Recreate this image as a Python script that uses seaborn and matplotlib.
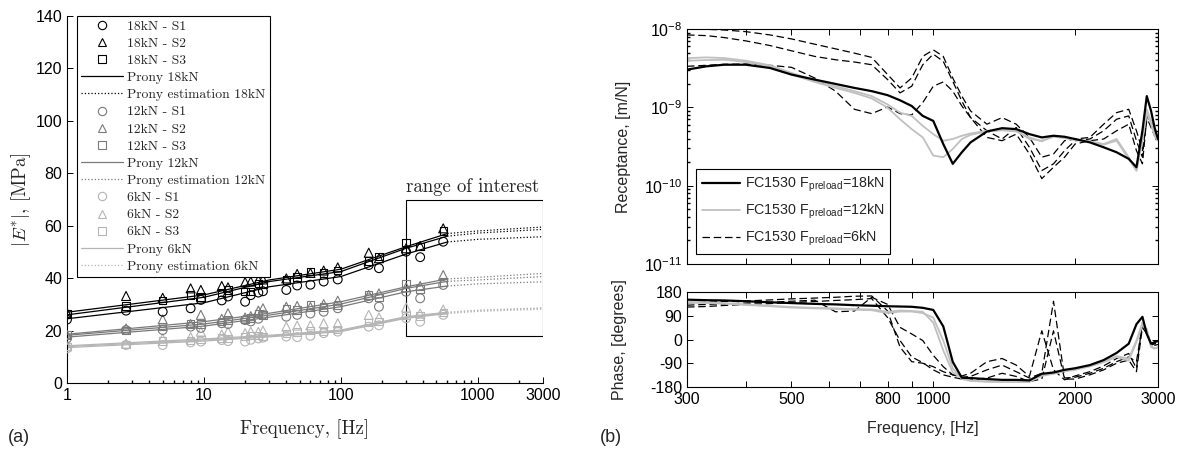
import matplotlib
matplotlib.use("Agg")  # no display

import numpy as np
import matplotlib.pyplot as plt
import seaborn as sns
from matplotlib.lines import Line2D
from matplotlib.patches import Rectangle
from matplotlib.ticker import FixedLocator, FixedFormatter, LogLocator, NullFormatter, NullLocator

# ---------------- (a) dynamic modulus |E*| vs frequency ----------------
meas_freq = [1, 2.7, 5, 8, 9.5, 13.5, 15, 20, 22, 25, 27, 40, 48, 60, 75, 95, 160, 190, 300, 380, 560]

e18_s1 = [24.2, 27.6, 27.2, 28.5, 31.7, 31.5, 33.0, 31.0, 33.5, 34.5, 35.0, 35.5, 37.2, 37.5, 38.7, 39.5, 45.0, 43.8, 50.1, 48.0, 53.9]
e18_s2 = [26.8, 33.2, 32.5, 36.1, 35.5, 37.0, 36.5, 38.5, 38.7, 39.3, 39.5, 39.9, 41.6, 42.0, 42.9, 44.1, 49.7, 47.6, 51.4, 52.3, 59.0]
e18_s3 = [26.5, 29.4, 31.5, 33.6, 32.8, 34.5, 35.5, 35.0, 34.8, 38.0, 37.5, 39.3, 40.5, 42.5, 42.0, 43.0, 46.5, 48.2, 53.5, 52.0, 58.0]
e12_s1 = [17.0, 20.2, 20.2, 21.5, 21.0, 22.8, 22.5, 24.0, 23.5, 24.5, 26.0, 25.3, 26.0, 26.5, 27.2, 28.5, 32.3, 29.1, 34.8, 32.3, 37.4]
e12_s2 = [18.3, 20.8, 24.3, 22.5, 26.0, 24.5, 26.6, 25.0, 25.5, 27.6, 28.5, 29.1, 29.4, 29.0, 30.1, 31.4, 33.6, 34.2, 36.5, 37.0, 41.2]
e12_s3 = [18.5, 20.0, 21.5, 22.8, 22.5, 23.4, 24.0, 24.2, 24.8, 26.6, 26.0, 28.5, 27.8, 29.8, 29.0, 29.8, 33.6, 32.5, 38.0, 35.8, 38.5]
e6_s1 = [13.2, 14.5, 14.5, 15.5, 15.8, 16.4, 16.0, 15.8, 16.5, 17.0, 17.3, 17.7, 17.5, 18.0, 19.0, 19.6, 21.5, 22.0, 24.7, 23.4, 26.0]
e6_s2 = [14.0, 15.0, 17.0, 17.5, 19.6, 18.5, 19.6, 19.0, 19.6, 19.5, 20.0, 21.5, 21.9, 22.0, 22.8, 22.8, 26.0, 25.0, 28.8, 26.5, 28.0]
e6_s3 = [13.8, 14.8, 16.0, 16.2, 16.5, 17.2, 17.0, 17.8, 18.0, 18.2, 17.8, 19.0, 19.5, 20.0, 19.6, 20.3, 23.0, 23.5, 25.8, 25.5, 26.8]

# Prony series fits (measured range) and their estimation beyond it
fit_freq = [1, 10, 30, 100, 300, 600]
prony18_s1 = [24.5, 30.6, 36.7, 40.6, 49.2, 53.8]
prony18_s2 = [27.0, 33.6, 39.3, 43.4, 52.0, 57.0]
prony18_s3 = [26.0, 32.7, 38.7, 42.5, 51.4, 56.0]
prony12_s1 = [17.5, 21.7, 25.1, 29.1, 34.8, 37.0]
prony12_s2 = [18.6, 23.4, 26.6, 31.0, 36.7, 39.7]
prony12_s3 = [18.2, 22.5, 25.9, 30.1, 36.1, 38.8]
prony6_s1 = [13.5, 16.0, 17.6, 19.6, 24.7, 26.5]
prony6_s2 = [14.2, 16.8, 18.2, 20.2, 25.3, 27.0]
prony6_s3 = [13.9, 16.4, 17.9, 19.9, 25.0, 26.8]

est_freq = [600, 1000, 3000]
est18_s1 = [53.8, 54.8, 55.8]
est18_s2 = [57.0, 58.0, 59.5]
est18_s3 = [56.0, 57.2, 58.6]
est12_s1 = [37.0, 37.8, 38.6]
est12_s2 = [39.7, 40.3, 41.8]
est12_s3 = [38.8, 39.3, 40.6]
est6_s1 = [26.5, 27.3, 28.2]
est6_s2 = [27.0, 27.8, 28.7]
est6_s3 = [26.8, 27.6, 28.5]

roi_freq = [300, 3000]
roi_modulus = [18, 70]

# ---------------- (b) receptance and phase, 300-3000 Hz ----------------
resp_freq = [300, 330, 360, 400, 450, 500, 560, 620, 680, 740, 800, 850, 900, 950, 1000, 1050, 1100, 1150,
             1200, 1300, 1400, 1500, 1600, 1700, 1800, 1900, 2000, 2150, 2300, 2450, 2600, 2700, 2780, 2840,
             2900, 2950, 3000]

# receptance in 1e-9 m/N
rec_18kN = [3.03, 3.34, 3.50, 3.50, 3.18, 2.62, 2.26, 1.99, 1.77, 1.61, 1.43, 1.23, 1.04, 0.777, 0.671, 0.340,
            0.190, 0.267, 0.357, 0.492, 0.542, 0.527, 0.455, 0.413, 0.434, 0.421, 0.394, 0.357, 0.309, 0.267,
            0.220, 0.172, 0.502, 1.39, 0.899, 0.553, 0.394]
rec_12kN_a = [4.25, 4.34, 4.25, 3.94, 3.44, 2.75, 2.20, 1.86, 1.61, 1.39, 1.09, 0.856, 0.777, 0.580, 0.455, 0.375,
              0.394, 0.434, 0.464, 0.502, 0.511, 0.502, 0.394, 0.375, 0.421, 0.405, 0.382, 0.368, 0.340, 0.394,
              0.231, 0.156, 0.375, 0.944, 0.671, 0.455, 0.382]
rec_12kN_b = [3.94, 4.01, 4.05, 3.79, 3.34, 2.62, 2.11, 1.77, 1.53, 1.30, 0.99, 0.705, 0.527, 0.413, 0.242, 0.231,
              0.294, 0.394, 0.446, 0.492, 0.511, 0.492, 0.413, 0.368, 0.430, 0.413, 0.390, 0.368, 0.334, 0.375,
              0.220, 0.156, 0.394, 0.856, 0.609, 0.434, 0.375]
rec_6kN_a = [9.90, 9.90, 9.71, 9.25, 8.40, 7.47, 6.40, 5.58, 4.92, 4.34, 2.62, 1.77, 2.37, 4.47, 5.42, 4.47,
             2.37, 1.39, 0.899, 0.609, 0.740, 0.609, 0.413, 0.231, 0.254, 0.375, 0.394, 0.413, 0.609, 0.856,
             0.944, 0.502, 0.280, 0.671, 0.671, 0.502, 0.413]
rec_6kN_b = [8.40, 8.23, 7.77, 7.05, 6.15, 5.27, 4.47, 4.05, 3.79, 3.50, 2.26, 1.53, 1.86, 3.50, 4.78, 3.86,
             2.15, 1.20, 0.740, 0.502, 0.394, 0.553, 0.309, 0.156, 0.190, 0.280, 0.375, 0.394, 0.502, 0.705,
             0.777, 0.375, 0.231, 0.815, 0.609, 0.455, 0.375]
rec_6kN_c = [3.34, 3.44, 3.54, 3.57, 3.44, 3.24, 2.37, 1.61, 0.944, 0.831, 1.01, 0.831, 0.800, 1.15, 1.86, 2.11,
             1.61, 1.04, 0.740, 0.413, 0.375, 0.455, 0.254, 0.123, 0.172, 0.231, 0.340, 0.375, 0.394, 0.502,
             0.609, 0.280, 0.190, 0.740, 0.553, 0.434, 0.368]

# phase in degrees
ph_18kN = [151, 149, 148, 145, 141, 138, 135, 133, 130, 128, 126, 125, 124, 120, 112, 50, -85, -145, -146,
           -150, -153, -153, -155, -130, -125, -115, -109, -97, -78, -51, -16, 58, 86, 21, -16, -10, -6]
ph_12kN_a = [143, 140, 138, 133, 128, 123, 120, 118, 115, 114, 105, 110, 108, 105, 64, -41, -125, -146, -155,
             -159, -160, -160, -160, -135, -128, -118, -113, -100, -84, -63, -72, -4, 64, 33, -29, -35, -29]
ph_12kN_b = [140, 138, 136, 131, 126, 121, 118, 116, 113, 111, 100, 106, 106, 100, 83, -4, -109, -150, -157,
             -160, -161, -161, -160, -138, -130, -120, -115, -102, -86, -66, -80, -10, 55, 40, -25, -33, -30]
ph_6kN_a = [139, 141, 144, 146, 150, 154, 157, 160, 164, 165, 108, -29, -84, -90, -103, -122, -134, -143, -140,
            -115, -97, -122, -146, -128, 145, -146, -143, -128, -109, -84, -66, -84, 58, 33, -16, -16, -14]
ph_6kN_b = [130, 133, 135, 138, 141, 145, 149, 105, 108, 160, 133, 46, 21, -4, -60, -103, -134, -138, -128,
            -84, -72, -97, -140, 33, -115, -153, -138, -122, -100, -72, -53, -109, 64, 27, -22, -16, -16]
ph_6kN_c = [123, 125, 129, 133, 136, 140, 144, 148, 151, 155, 83, -4, -66, -88, -115, -134, -143, -150, -153,
            -146, -128, -140, -159, -150, 33, -150, -150, -134, -115, -90, -78, -122, 46, 21, -16, -22, -19]

freq_ticks = [300, 400, 500, 600, 700, 800, 900, 1000, 2000, 3000]
freq_tick_labels = ["300", "", "500", "", "", "800", "", "1000", "2000", "3000"]
phase_ticks = [-180, -90, 0, 90, 180]

# ---------------- style ----------------
sns.set_theme(style="ticks")
plt.rcParams.update({
    "font.family": ["Liberation Sans", "DejaVu Sans"],
    "mathtext.fontset": "custom",
    "mathtext.rm": "Liberation Sans",
    "mathtext.it": "Liberation Sans:italic",
    "mathtext.bf": "Liberation Sans:bold",
    "axes.unicode_minus": False,
    "axes.linewidth": 0.8,
    "axes.edgecolor": "black",
    "xtick.direction": "in",
    "ytick.direction": "in",
    "xtick.color": "black",
    "ytick.color": "black",
    "xtick.major.size": 4,
    "ytick.major.size": 4,
    "xtick.minor.size": 2,
    "ytick.minor.size": 2,
    "xtick.major.width": 0.7,
    "ytick.major.width": 0.7,
    "xtick.labelsize": 11.5,
    "ytick.labelsize": 11.5,
})
SERIF = "cmr10"

fig = plt.figure(figsize=(11.78, 4.51), dpi=100)

# ---------------- panel (a) ----------------
ax_a = fig.add_axes([67 / 1178, 68 / 451, 476 / 1178, 367 / 451])
ax_a.set_xscale("log")

load_colors = {"18kN": "black", "12kN": "#7a7a7a", "6kN": "#b5b5b5"}
sample_markers = {"S1": "o", "S2": "^", "S3": "s"}
marker_sizes = {"S1": 40, "S2": 42, "S3": 28}
modulus = {
    "18kN": {"S1": e18_s1, "S2": e18_s2, "S3": e18_s3},
    "12kN": {"S1": e12_s1, "S2": e12_s2, "S3": e12_s3},
    "6kN": {"S1": e6_s1, "S2": e6_s2, "S3": e6_s3},
}
prony = {
    "18kN": {"S1": prony18_s1, "S2": prony18_s2, "S3": prony18_s3},
    "12kN": {"S1": prony12_s1, "S2": prony12_s2, "S3": prony12_s3},
    "6kN": {"S1": prony6_s1, "S2": prony6_s2, "S3": prony6_s3},
}
prony_est = {
    "18kN": {"S1": est18_s1, "S2": est18_s2, "S3": est18_s3},
    "12kN": {"S1": est12_s1, "S2": est12_s2, "S3": est12_s3},
    "6kN": {"S1": est6_s1, "S2": est6_s2, "S3": est6_s3},
}

for load in ["6kN", "12kN", "18kN"]:
    c = load_colors[load]
    for smp in ["S1", "S2", "S3"]:
        sns.lineplot(x=fit_freq, y=prony[load][smp], ax=ax_a, color=c, linewidth=0.9, legend=False)
        sns.lineplot(x=est_freq, y=prony_est[load][smp], ax=ax_a, color=c, linewidth=0.9,
                     linestyle=":", legend=False)
        sns.scatterplot(x=meas_freq, y=modulus[load][smp], ax=ax_a, marker=sample_markers[smp],
                        s=marker_sizes[smp], facecolor="none", edgecolor=c, linewidth=0.8,
                        legend=False, zorder=3)

ax_a.add_patch(Rectangle((roi_freq[0], roi_modulus[0]), roi_freq[1] - roi_freq[0],
                         roi_modulus[1] - roi_modulus[0], fill=False, edgecolor="black", linewidth=0.8))
ax_a.text(roi_freq[0], roi_modulus[1] + 1.5, "range of interest", family=SERIF, fontsize=13.5,
          ha="left", va="bottom")

ax_a.set_xlim(1, 3000)
ax_a.set_ylim(0, 140)
ax_a.xaxis.set_major_locator(FixedLocator([1, 10, 100, 1000, 3000]))
ax_a.xaxis.set_major_formatter(FixedFormatter(["1", "10", "100", "1000", "3000"]))
ax_a.xaxis.set_minor_locator(LogLocator(base=10, subs=np.arange(2, 10)))
ax_a.xaxis.set_minor_formatter(NullFormatter())
ax_a.set_yticks(range(0, 141, 20))
sns.despine(ax=ax_a)
ax_a.set_xlabel("Frequency, [Hz]", family=SERIF, fontsize=13.5)
ax_a.set_ylabel(r"$|E^{*}|$, [MPa]", family=SERIF, fontsize=13.5, math_fontfamily="cm")
ax_a.xaxis.set_label_coords(0.5, -0.1)
ax_a.yaxis.set_label_coords(-0.072, 0.5)

handles = []
labels = []
for load in ["18kN", "12kN", "6kN"]:
    c = load_colors[load]
    for smp in ["S1", "S2", "S3"]:
        handles.append(Line2D([], [], linestyle="none", marker=sample_markers[smp], markersize=6,
                              markerfacecolor="none", markeredgecolor=c, markeredgewidth=0.8))
        labels.append(f"{load} - {smp}")
    handles.append(Line2D([], [], color=c, linewidth=0.9))
    labels.append(f"Prony {load}")
    handles.append(Line2D([], [], color=c, linewidth=0.9, linestyle=":"))
    labels.append(f"Prony estimation {load}")
leg_a = ax_a.legend(handles, labels, loc="upper left", bbox_to_anchor=(0.021, 1.0), borderaxespad=0,
                    prop={"family": SERIF, "size": 9.8}, frameon=True, fancybox=False, framealpha=1,
                    edgecolor="black", handlelength=3.1, handletextpad=0.3, labelspacing=0.34,
                    borderpad=0.3)
leg_a.get_frame().set_linewidth(0.8)

# ---------------- panel (b): receptance ----------------
ax_r = fig.add_axes([687 / 1178, 187 / 451, 471 / 1178, 235 / 451])
ax_r.set_xscale("log")
ax_r.set_yscale("log")

solid18 = dict(color="black", linewidth=1.6)
solid12 = dict(color="#c0c0c0", linewidth=1.3)
dash6 = dict(color="black", linewidth=0.9, linestyle=(0, (6, 3)))

for vals in [rec_6kN_a, rec_6kN_b, rec_6kN_c]:
    sns.lineplot(x=resp_freq, y=np.array(vals) * 1e-9, ax=ax_r, legend=False, **dash6)
for vals in [rec_12kN_a, rec_12kN_b]:
    sns.lineplot(x=resp_freq, y=np.array(vals) * 1e-9, ax=ax_r, legend=False, **solid12)
sns.lineplot(x=resp_freq, y=np.array(rec_18kN) * 1e-9, ax=ax_r, legend=False, **solid18)

ax_r.set_xlim(300, 3000)
ax_r.set_ylim(1e-11, 1e-8)
ax_r.xaxis.set_major_locator(FixedLocator(freq_ticks))
ax_r.xaxis.set_major_formatter(NullFormatter())
ax_r.xaxis.set_minor_locator(NullLocator())
ax_r.yaxis.set_minor_locator(LogLocator(base=10, subs=np.arange(2, 10)))
ax_r.yaxis.set_minor_formatter(NullFormatter())
ax_r.tick_params(which="both", top=True, right=True)
ax_r.set_xlabel("")
ax_r.set_ylabel("Receptance, [m/N]", fontsize=11.5)
ax_r.yaxis.set_label_coords(-56 / 471, 0.5)

leg_handles = [Line2D([], [], **solid18), Line2D([], [], **solid12), Line2D([], [], **dash6)]
leg_labels = [r"FC1530 F$_{\mathregular{preload}}$=18kN",
              r"FC1530 F$_{\mathregular{preload}}$=12kN",
              r"FC1530 F$_{\mathregular{preload}}$=6kN"]
leg_b = ax_r.legend(leg_handles, leg_labels, loc="lower left", bbox_to_anchor=(9 / 471, 10 / 235),
                    borderaxespad=0, fontsize=10.3, frameon=True, fancybox=False, framealpha=1,
                    edgecolor="black", handlelength=2.7, handletextpad=0.3, labelspacing=0.55,
                    borderpad=0.4)
leg_b.get_frame().set_linewidth(0.8)

# ---------------- panel (b): phase ----------------
ax_p = fig.add_axes([687 / 1178, 64 / 451, 471 / 1178, 95 / 451])
ax_p.set_xscale("log")
for vals in [ph_6kN_a, ph_6kN_b, ph_6kN_c]:
    sns.lineplot(x=resp_freq, y=vals, ax=ax_p, legend=False, **dash6)
for vals in [ph_12kN_a, ph_12kN_b]:
    sns.lineplot(x=resp_freq, y=vals, ax=ax_p, legend=False, **solid12)
sns.lineplot(x=resp_freq, y=ph_18kN, ax=ax_p, legend=False, **solid18)

ax_p.set_xlim(300, 3000)
ax_p.set_ylim(-180, 180)
ax_p.set_yticks(phase_ticks)
ax_p.xaxis.set_major_locator(FixedLocator(freq_ticks))
ax_p.xaxis.set_major_formatter(FixedFormatter(freq_tick_labels))
ax_p.xaxis.set_minor_locator(NullLocator())
ax_p.tick_params(which="both", top=True, right=True)
ax_p.set_xlabel("Frequency, [Hz]", fontsize=11.5)
ax_p.set_ylabel("Phase, [degrees]", fontsize=11.5)
ax_p.xaxis.set_label_coords(0.5, -0.36)
ax_p.yaxis.set_label_coords(-60 / 471, 0.5)

fig.text(8 / 1178, 1 - 437 / 451, "(a)", fontsize=13, va="center", ha="left")
fig.text(600 / 1178, 1 - 437 / 451, "(b)", fontsize=13, va="center", ha="left")

fig.savefig("out.png", dpi=100)
plt.close(fig)
